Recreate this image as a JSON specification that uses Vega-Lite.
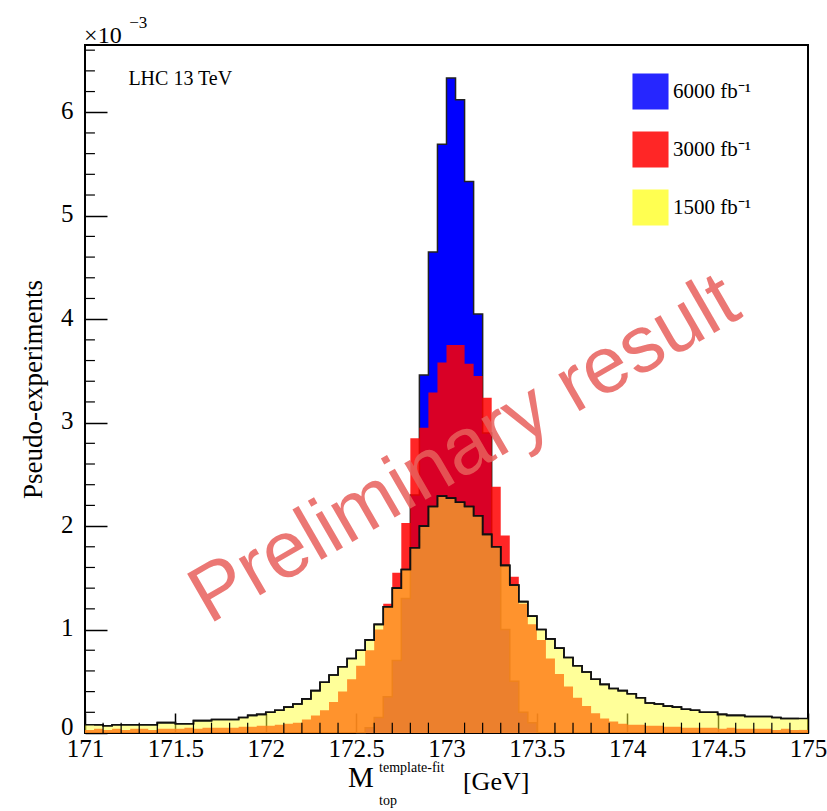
{
  "$schema": "https://vega.github.io/schema/vega-lite/v6.json",
  "width": 723,
  "height": 688,
  "autosize": {"type": "none"},
  "padding": {"left": 85, "top": 45, "right": 19, "bottom": 78},
  "background": "white",
  "config": {
    "view": {"stroke": "#000", "strokeWidth": 2},
    "axis": {"grid": false, "domain": false, "labelColor": "#000", "tickColor": "#000", "titleColor": "#000"}
  },
  "datasets": {
    "blue": [
      {"m": 172.50, "m2": 172.55, "n": 0.0},
      {"m": 172.55, "m2": 172.60, "n": 0.05},
      {"m": 172.60, "m2": 172.65, "n": 0.15},
      {"m": 172.65, "m2": 172.70, "n": 0.35},
      {"m": 172.70, "m2": 172.75, "n": 0.7},
      {"m": 172.75, "m2": 172.80, "n": 1.3},
      {"m": 172.80, "m2": 172.85, "n": 2.3},
      {"m": 172.85, "m2": 172.90, "n": 3.46},
      {"m": 172.90, "m2": 172.95, "n": 4.65},
      {"m": 172.95, "m2": 173.00, "n": 5.69},
      {"m": 173.00, "m2": 173.05, "n": 6.33},
      {"m": 173.05, "m2": 173.10, "n": 6.12},
      {"m": 173.10, "m2": 173.15, "n": 5.33},
      {"m": 173.15, "m2": 173.20, "n": 4.05},
      {"m": 173.20, "m2": 173.25, "n": 2.9},
      {"m": 173.25, "m2": 173.30, "n": 1.8},
      {"m": 173.30, "m2": 173.35, "n": 1.0},
      {"m": 173.35, "m2": 173.40, "n": 0.5},
      {"m": 173.40, "m2": 173.45, "n": 0.2},
      {"m": 173.45, "m2": 173.50, "n": 0.1},
      {"m": 173.50, "m2": 173.55, "n": 0.0}
    ],
    "red": [
      {"m": 171.00, "m2": 171.05, "n": 0.03},
      {"m": 171.05, "m2": 171.10, "n": 0.04},
      {"m": 171.10, "m2": 171.15, "n": 0.03},
      {"m": 171.15, "m2": 171.20, "n": 0.04},
      {"m": 171.20, "m2": 171.25, "n": 0.03},
      {"m": 171.25, "m2": 171.30, "n": 0.04},
      {"m": 171.30, "m2": 171.35, "n": 0.04},
      {"m": 171.35, "m2": 171.40, "n": 0.03},
      {"m": 171.40, "m2": 171.45, "n": 0.04},
      {"m": 171.45, "m2": 171.50, "n": 0.04},
      {"m": 171.50, "m2": 171.55, "n": 0.04},
      {"m": 171.55, "m2": 171.60, "n": 0.05},
      {"m": 171.60, "m2": 171.65, "n": 0.04},
      {"m": 171.65, "m2": 171.70, "n": 0.05},
      {"m": 171.70, "m2": 171.75, "n": 0.05},
      {"m": 171.75, "m2": 171.80, "n": 0.05},
      {"m": 171.80, "m2": 171.85, "n": 0.05},
      {"m": 171.85, "m2": 171.90, "n": 0.06},
      {"m": 171.90, "m2": 171.95, "n": 0.06},
      {"m": 171.95, "m2": 172.00, "n": 0.07},
      {"m": 172.00, "m2": 172.05, "n": 0.07},
      {"m": 172.05, "m2": 172.10, "n": 0.08},
      {"m": 172.10, "m2": 172.15, "n": 0.09},
      {"m": 172.15, "m2": 172.20, "n": 0.10},
      {"m": 172.20, "m2": 172.25, "n": 0.13},
      {"m": 172.25, "m2": 172.30, "n": 0.17},
      {"m": 172.30, "m2": 172.35, "n": 0.22},
      {"m": 172.35, "m2": 172.40, "n": 0.30},
      {"m": 172.40, "m2": 172.45, "n": 0.40},
      {"m": 172.45, "m2": 172.50, "n": 0.52},
      {"m": 172.50, "m2": 172.55, "n": 0.65},
      {"m": 172.55, "m2": 172.60, "n": 0.80},
      {"m": 172.60, "m2": 172.65, "n": 1.00},
      {"m": 172.65, "m2": 172.70, "n": 1.25},
      {"m": 172.70, "m2": 172.75, "n": 1.55},
      {"m": 172.75, "m2": 172.80, "n": 2.03},
      {"m": 172.80, "m2": 172.85, "n": 2.85},
      {"m": 172.85, "m2": 172.90, "n": 2.95},
      {"m": 172.90, "m2": 172.95, "n": 3.29},
      {"m": 172.95, "m2": 173.00, "n": 3.58},
      {"m": 173.00, "m2": 173.05, "n": 3.75},
      {"m": 173.05, "m2": 173.10, "n": 3.75},
      {"m": 173.10, "m2": 173.15, "n": 3.57},
      {"m": 173.15, "m2": 173.20, "n": 3.45},
      {"m": 173.20, "m2": 173.25, "n": 3.24},
      {"m": 173.25, "m2": 173.30, "n": 2.38},
      {"m": 173.30, "m2": 173.35, "n": 1.91},
      {"m": 173.35, "m2": 173.40, "n": 1.51},
      {"m": 173.40, "m2": 173.45, "n": 1.25},
      {"m": 173.45, "m2": 173.50, "n": 1.05},
      {"m": 173.50, "m2": 173.55, "n": 0.90},
      {"m": 173.55, "m2": 173.60, "n": 0.72},
      {"m": 173.60, "m2": 173.65, "n": 0.57},
      {"m": 173.65, "m2": 173.70, "n": 0.45},
      {"m": 173.70, "m2": 173.75, "n": 0.34},
      {"m": 173.75, "m2": 173.80, "n": 0.26},
      {"m": 173.80, "m2": 173.85, "n": 0.19},
      {"m": 173.85, "m2": 173.90, "n": 0.14},
      {"m": 173.90, "m2": 173.95, "n": 0.11},
      {"m": 173.95, "m2": 174.00, "n": 0.09},
      {"m": 174.00, "m2": 174.05, "n": 0.08},
      {"m": 174.05, "m2": 174.10, "n": 0.08},
      {"m": 174.10, "m2": 174.15, "n": 0.07},
      {"m": 174.15, "m2": 174.20, "n": 0.07},
      {"m": 174.20, "m2": 174.25, "n": 0.06},
      {"m": 174.25, "m2": 174.30, "n": 0.06},
      {"m": 174.30, "m2": 174.35, "n": 0.05},
      {"m": 174.35, "m2": 174.40, "n": 0.05},
      {"m": 174.40, "m2": 174.45, "n": 0.05},
      {"m": 174.45, "m2": 174.50, "n": 0.05},
      {"m": 174.50, "m2": 174.55, "n": 0.04},
      {"m": 174.55, "m2": 174.60, "n": 0.05},
      {"m": 174.60, "m2": 174.65, "n": 0.04},
      {"m": 174.65, "m2": 174.70, "n": 0.04},
      {"m": 174.70, "m2": 174.75, "n": 0.04},
      {"m": 174.75, "m2": 174.80, "n": 0.04},
      {"m": 174.80, "m2": 174.85, "n": 0.03},
      {"m": 174.85, "m2": 174.90, "n": 0.04},
      {"m": 174.90, "m2": 174.95, "n": 0.03},
      {"m": 174.95, "m2": 175.00, "n": 0.03}
    ],
    "yellow": [
      {"m": 171.00, "m2": 171.05, "n": 0.08},
      {"m": 171.05, "m2": 171.10, "n": 0.08},
      {"m": 171.10, "m2": 171.15, "n": 0.07},
      {"m": 171.15, "m2": 171.20, "n": 0.08},
      {"m": 171.20, "m2": 171.25, "n": 0.08},
      {"m": 171.25, "m2": 171.30, "n": 0.08},
      {"m": 171.30, "m2": 171.35, "n": 0.08},
      {"m": 171.35, "m2": 171.40, "n": 0.08},
      {"m": 171.40, "m2": 171.45, "n": 0.10},
      {"m": 171.45, "m2": 171.50, "n": 0.10},
      {"m": 171.50, "m2": 171.55, "n": 0.09},
      {"m": 171.55, "m2": 171.60, "n": 0.09},
      {"m": 171.60, "m2": 171.65, "n": 0.12},
      {"m": 171.65, "m2": 171.70, "n": 0.12},
      {"m": 171.70, "m2": 171.75, "n": 0.13},
      {"m": 171.75, "m2": 171.80, "n": 0.13},
      {"m": 171.80, "m2": 171.85, "n": 0.13},
      {"m": 171.85, "m2": 171.90, "n": 0.15},
      {"m": 171.90, "m2": 171.95, "n": 0.17},
      {"m": 171.95, "m2": 172.00, "n": 0.18},
      {"m": 172.00, "m2": 172.05, "n": 0.20},
      {"m": 172.05, "m2": 172.10, "n": 0.22},
      {"m": 172.10, "m2": 172.15, "n": 0.25},
      {"m": 172.15, "m2": 172.20, "n": 0.28},
      {"m": 172.20, "m2": 172.25, "n": 0.33},
      {"m": 172.25, "m2": 172.30, "n": 0.41},
      {"m": 172.30, "m2": 172.35, "n": 0.49},
      {"m": 172.35, "m2": 172.40, "n": 0.56},
      {"m": 172.40, "m2": 172.45, "n": 0.64},
      {"m": 172.45, "m2": 172.50, "n": 0.72},
      {"m": 172.50, "m2": 172.55, "n": 0.80},
      {"m": 172.55, "m2": 172.60, "n": 0.90},
      {"m": 172.60, "m2": 172.65, "n": 1.05},
      {"m": 172.65, "m2": 172.70, "n": 1.22},
      {"m": 172.70, "m2": 172.75, "n": 1.40},
      {"m": 172.75, "m2": 172.80, "n": 1.58},
      {"m": 172.80, "m2": 172.85, "n": 1.79},
      {"m": 172.85, "m2": 172.90, "n": 2.00},
      {"m": 172.90, "m2": 172.95, "n": 2.19},
      {"m": 172.95, "m2": 173.00, "n": 2.29},
      {"m": 173.00, "m2": 173.05, "n": 2.27},
      {"m": 173.05, "m2": 173.10, "n": 2.23},
      {"m": 173.10, "m2": 173.15, "n": 2.19},
      {"m": 173.15, "m2": 173.20, "n": 2.10},
      {"m": 173.20, "m2": 173.25, "n": 1.92},
      {"m": 173.25, "m2": 173.30, "n": 1.80},
      {"m": 173.30, "m2": 173.35, "n": 1.62},
      {"m": 173.35, "m2": 173.40, "n": 1.43},
      {"m": 173.40, "m2": 173.45, "n": 1.27},
      {"m": 173.45, "m2": 173.50, "n": 1.13},
      {"m": 173.50, "m2": 173.55, "n": 1.00},
      {"m": 173.55, "m2": 173.60, "n": 0.91},
      {"m": 173.60, "m2": 173.65, "n": 0.82},
      {"m": 173.65, "m2": 173.70, "n": 0.73},
      {"m": 173.70, "m2": 173.75, "n": 0.65},
      {"m": 173.75, "m2": 173.80, "n": 0.59},
      {"m": 173.80, "m2": 173.85, "n": 0.52},
      {"m": 173.85, "m2": 173.90, "n": 0.47},
      {"m": 173.90, "m2": 173.95, "n": 0.43},
      {"m": 173.95, "m2": 174.00, "n": 0.41},
      {"m": 174.00, "m2": 174.05, "n": 0.38},
      {"m": 174.05, "m2": 174.10, "n": 0.34},
      {"m": 174.10, "m2": 174.15, "n": 0.29},
      {"m": 174.15, "m2": 174.20, "n": 0.28},
      {"m": 174.20, "m2": 174.25, "n": 0.26},
      {"m": 174.25, "m2": 174.30, "n": 0.25},
      {"m": 174.30, "m2": 174.35, "n": 0.23},
      {"m": 174.35, "m2": 174.40, "n": 0.22},
      {"m": 174.40, "m2": 174.45, "n": 0.20},
      {"m": 174.45, "m2": 174.50, "n": 0.20},
      {"m": 174.50, "m2": 174.55, "n": 0.18},
      {"m": 174.55, "m2": 174.60, "n": 0.17},
      {"m": 174.60, "m2": 174.65, "n": 0.17},
      {"m": 174.65, "m2": 174.70, "n": 0.16},
      {"m": 174.70, "m2": 174.75, "n": 0.16},
      {"m": 174.75, "m2": 174.80, "n": 0.16},
      {"m": 174.80, "m2": 174.85, "n": 0.15},
      {"m": 174.85, "m2": 174.90, "n": 0.14},
      {"m": 174.90, "m2": 174.95, "n": 0.14},
      {"m": 174.95, "m2": 175.00, "n": 0.14}
    ],
    "yminor": [
      {"v": 0.2}, {"v": 0.4}, {"v": 0.6}, {"v": 0.8},
      {"v": 1.2}, {"v": 1.4}, {"v": 1.6}, {"v": 1.8},
      {"v": 2.2}, {"v": 2.4}, {"v": 2.6}, {"v": 2.8},
      {"v": 3.2}, {"v": 3.4}, {"v": 3.6}, {"v": 3.8},
      {"v": 4.2}, {"v": 4.4}, {"v": 4.6}, {"v": 4.8},
      {"v": 5.2}, {"v": 5.4}, {"v": 5.6}, {"v": 5.8},
      {"v": 6.2}, {"v": 6.4}, {"v": 6.6}
    ],
    "xminor": [
      {"v": 171.1}, {"v": 171.2}, {"v": 171.3}, {"v": 171.4},
      {"v": 171.6}, {"v": 171.7}, {"v": 171.8}, {"v": 171.9},
      {"v": 172.1}, {"v": 172.2}, {"v": 172.3}, {"v": 172.4},
      {"v": 172.6}, {"v": 172.7}, {"v": 172.8}, {"v": 172.9},
      {"v": 173.1}, {"v": 173.2}, {"v": 173.3}, {"v": 173.4},
      {"v": 173.6}, {"v": 173.7}, {"v": 173.8}, {"v": 173.9},
      {"v": 174.1}, {"v": 174.2}, {"v": 174.3}, {"v": 174.4},
      {"v": 174.6}, {"v": 174.7}, {"v": 174.8}, {"v": 174.9}
    ]
  },
  "layer": [
    {
      "data": {"name": "blue"},
      "mark": {"type": "area", "interpolate": "step-after", "opacity": 1},
      "encoding": {
        "x": {"field": "m", "type": "quantitative", "title": null,
          "scale": {"domain": [171, 175], "nice": false, "zero": false},
          "axis": {"values": [171, 171.5, 172, 172.5, 173, 173.5, 174, 174.5, 175], "format": ".1~f",
            "tickSize": -20, "tickWidth": 1.5, "labelFont": "Liberation Serif", "labelFontSize": 25,
            "labelPadding": 23, "labelFlush": false, "labelOverlap": false, "title": null}},
        "y": {"field": "n", "type": "quantitative",
          "scale": {"domain": [0, 6.65], "nice": false},
          "axis": {"values": [0, 1, 2, 3, 4, 5, 6], "format": "d", "tickSize": -22, "tickWidth": 1.5,
            "labelFont": "Liberation Serif", "labelFontSize": 25, "labelPadding": 34, "labelOverlap": false,
            "labelOffset": {"condition": {"test": "datum.value == 0", "value": -7}, "value": -2},
            "title": "Pseudo-experiments",
            "titleFont": "Liberation Serif", "titleFontSize": 27, "titleFontWeight": "normal", "titlePadding": 13}},
        "color": {"datum": "6000 fb⁻¹", "type": "nominal",
          "scale": {"domain": ["6000 fb⁻¹", "3000 fb⁻¹", "1500 fb⁻¹"], "range": ["#0000ff", "#ff0000", "#ffff33"]},
          "legend": {"orient": "none", "legendX": 547, "legendY": 28, "title": null, "symbolType": "square",
            "symbolSize": 1300, "symbolStrokeWidth": 0, "symbolOpacity": 1, "labelFont": "Liberation Serif",
            "labelFontSize": 21, "labelColor": "#000", "rowPadding": 21, "labelOffset": 4}}
      }
    },
    {
      "data": {"name": "blue"},
      "mark": {"type": "line", "interpolate": "step-after", "color": "#222", "strokeWidth": 1.5},
      "encoding": {
        "x": {"field": "m", "type": "quantitative", "title": null},
        "y": {"field": "n", "type": "quantitative"}
      }
    },
    {
      "data": {"name": "red"},
      "mark": {"type": "area", "interpolate": "step-after", "opacity": 0.85},
      "encoding": {
        "x": {"field": "m", "type": "quantitative", "title": null},
        "y": {"field": "n", "type": "quantitative"},
        "color": {"datum": "3000 fb⁻¹", "type": "nominal"}
      }
    },
    {
      "data": {"name": "red"},
      "transform": [{"filter": "datum.m > 174.9"}],
      "mark": {"type": "rect", "opacity": 0.85},
      "encoding": {
        "x": {"field": "m", "type": "quantitative", "title": null},
        "x2": {"field": "m2"},
        "y": {"field": "n", "type": "quantitative"},
        "y2": {"datum": 0},
        "color": {"datum": "3000 fb⁻¹", "type": "nominal"}
      }
    },
    {
      "data": {"name": "yellow"},
      "mark": {"type": "area", "interpolate": "step-after", "opacity": 0.5},
      "encoding": {
        "x": {"field": "m", "type": "quantitative", "title": null},
        "y": {"field": "n", "type": "quantitative"},
        "color": {"datum": "1500 fb⁻¹", "type": "nominal"}
      }
    },
    {
      "data": {"name": "yellow"},
      "transform": [{"filter": "datum.m > 174.9"}],
      "mark": {"type": "rect", "opacity": 0.5},
      "encoding": {
        "x": {"field": "m", "type": "quantitative", "title": null},
        "x2": {"field": "m2"},
        "y": {"field": "n", "type": "quantitative"},
        "y2": {"datum": 0},
        "color": {"datum": "1500 fb⁻¹", "type": "nominal"}
      }
    },
    {
      "data": {"name": "yellow"},
      "mark": {"type": "line", "interpolate": "step-after", "color": "#111", "strokeWidth": 1.6},
      "encoding": {
        "x": {"field": "m", "type": "quantitative", "title": null},
        "y": {"field": "n", "type": "quantitative"}
      }
    },
    {
      "data": {"name": "yellow"},
      "mark": {"type": "line", "interpolate": "step-before", "color": "#111", "strokeWidth": 1.6},
      "encoding": {
        "x": {"field": "m2", "type": "quantitative", "title": null},
        "y": {"field": "n", "type": "quantitative"}
      }
    },
    {
      "data": {"name": "yminor"},
      "mark": {"type": "rule", "color": "#000", "strokeWidth": 1.2},
      "encoding": {
        "x": {"datum": 171, "type": "quantitative"},
        "x2": {"datum": 171.055},
        "y": {"field": "v", "type": "quantitative"}
      }
    },
    {
      "data": {"name": "xminor"},
      "mark": {"type": "rule", "color": "#000", "strokeWidth": 1.2},
      "encoding": {
        "x": {"field": "v", "type": "quantitative", "title": null},
        "y": {"datum": 0, "type": "quantitative"},
        "y2": {"datum": 0.1}
      }
    },
    {
      "data": {"values": [{}]},
      "mark": {"type": "text", "text": "Preliminary result", "font": "Liberation Sans", "fontSize": 80,
        "angle": -30, "align": "center", "baseline": "middle", "fill": "#E8605C", "opacity": 0.85},
      "encoding": {"x": {"datum": 173.1, "type": "quantitative"}, "y": {"datum": 2.74, "type": "quantitative"}}
    },
    {
      "data": {"values": [{}]},
      "mark": {"type": "text", "text": "LHC 13 TeV", "font": "Liberation Serif", "fontSize": 20,
        "align": "left", "baseline": "middle", "fill": "#000"},
      "encoding": {"x": {"datum": 171.24, "type": "quantitative"}, "y": {"datum": 6.32, "type": "quantitative"}}
    },
    {
      "data": {"values": [{}]},
      "mark": {"type": "text", "text": "×10", "font": "Liberation Serif", "fontSize": 24,
        "align": "left", "baseline": "alphabetic", "fill": "#000"},
      "encoding": {"x": {"datum": 170.995, "type": "quantitative"}, "y": {"datum": 6.673, "type": "quantitative"}}
    },
    {
      "data": {"values": [{}]},
      "mark": {"type": "text", "text": "−3", "font": "Liberation Serif", "fontSize": 17,
        "align": "left", "baseline": "alphabetic", "fill": "#000"},
      "encoding": {"x": {"datum": 171.245, "type": "quantitative"}, "y": {"datum": 6.818, "type": "quantitative"}}
    },
    {
      "data": {"values": [{}]},
      "mark": {"type": "text", "text": "M", "font": "Liberation Serif", "fontSize": 29,
        "align": "center", "baseline": "alphabetic", "fill": "#000"},
      "encoding": {"x": {"datum": 172.527, "type": "quantitative"}, "y": {"datum": -0.523, "type": "quantitative"}}
    },
    {
      "data": {"values": [{}]},
      "mark": {"type": "text", "text": "template-fit", "font": "Liberation Serif", "fontSize": 14,
        "align": "left", "baseline": "alphabetic", "fill": "#000"},
      "encoding": {"x": {"datum": 172.627, "type": "quantitative"}, "y": {"datum": -0.378, "type": "quantitative"}}
    },
    {
      "data": {"values": [{}]},
      "mark": {"type": "text", "text": "top", "font": "Liberation Serif", "fontSize": 14,
        "align": "left", "baseline": "alphabetic", "fill": "#000"},
      "encoding": {"x": {"datum": 172.627, "type": "quantitative"}, "y": {"datum": -0.697, "type": "quantitative"}}
    },
    {
      "data": {"values": [{}]},
      "mark": {"type": "text", "text": "[GeV]", "font": "Liberation Serif", "fontSize": 26,
        "align": "left", "baseline": "alphabetic", "fill": "#000"},
      "encoding": {"x": {"datum": 173.091, "type": "quantitative"}, "y": {"datum": -0.552, "type": "quantitative"}}
    }
  ]
}
